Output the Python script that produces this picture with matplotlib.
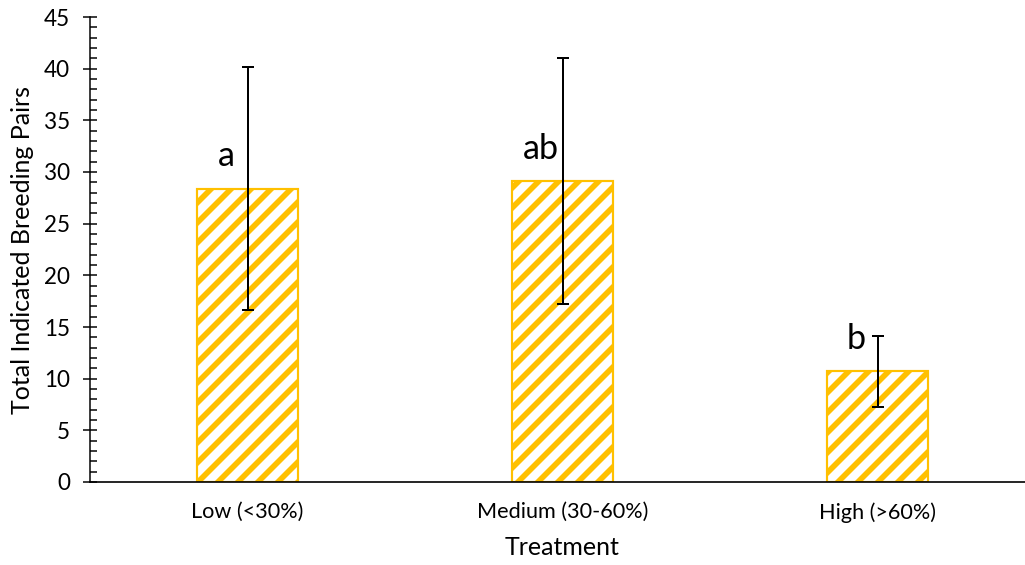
import matplotlib.pyplot as plt
from matplotlib.ticker import MultipleLocator

treatments = ['Low (<30%)', 'Medium (30-60%)', 'High (>60%)']
pairs = [28.4, 29.1, 10.7]
errors = [11.8, 11.9, 3.4]
letters = ['a', 'ab', 'b']

BAR_COLOR = '#FFC000'

plt.rcParams['font.family'] = ['Lato', 'DejaVu Sans']
plt.rcParams['hatch.linewidth'] = 3.4

# 120 dpi keeps the hatch stripes at the wider spacing
fig = plt.figure(figsize=(1025 / 120, 565 / 120), dpi=120)
ax = fig.add_axes([90 / 1025, 1 - 482 / 565, 945 / 1025, 465 / 565])

x = range(len(treatments))
ax.bar(x, pairs, width=0.32, color='white', edgecolor=BAR_COLOR,
       linewidth=1.3, hatch='//', zorder=2)
ax.errorbar(x, pairs, yerr=errors, fmt='none', ecolor='black',
            elinewidth=1.2, capsize=3.6, capthick=1.2, zorder=3)

for i, (val, lab) in enumerate(zip(pairs, letters)):
    ax.text(i - 0.068, val + 2.2, lab, ha='center', va='baseline', fontsize=20.5)

ax.set_xlim(-0.5, 2.5)
ax.set_ylim(0, 45)
ax.yaxis.set_major_locator(MultipleLocator(5))
ax.yaxis.set_minor_locator(MultipleLocator(1))
ax.set_xticks(list(x))
ax.set_xticklabels(treatments)

for side in ['top', 'right']:
    ax.spines[side].set_visible(False)
ax.spines['left'].set_linewidth(0.9)
ax.spines['bottom'].set_linewidth(1.0)

ax.tick_params(axis='y', which='major', direction='inout', length=8,
               width=0.9, labelsize=13.5, pad=8)
ax.tick_params(axis='y', which='minor', direction='in', length=4, width=0.9)
ax.tick_params(axis='x', length=0, labelsize=13, pad=12)

ax.set_ylabel('Total Indicated Breeding Pairs', fontsize=15, labelpad=6)
ax.set_xlabel('Treatment', fontsize=15, labelpad=8)

fig.savefig('out.png', dpi=120)
